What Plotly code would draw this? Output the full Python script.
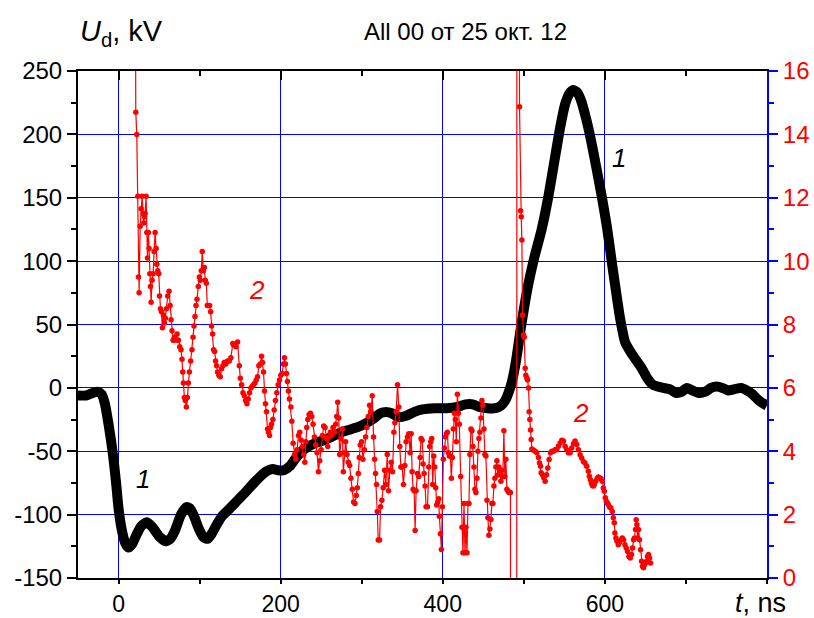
import plotly.graph_objects as go

# Curve 1: divider voltage U_d, kV (left axis)
t_u = [-50, -40, -32, -26, -21, -17, -12, -7, -3, 0, 4, 8, 12, 17, 22, 28, 35, 42, 50, 58,
       64, 70, 77, 84, 88, 93, 99, 105, 110, 115, 121, 128, 136, 145, 157, 170, 182, 190, 197, 204,
       211, 218, 226, 235, 245, 255, 265, 275, 285, 295, 305, 315, 323, 330, 337, 345, 355, 365, 375, 390,
       405, 418, 428, 437, 445, 455, 465, 472, 477, 481, 485, 490, 497, 505, 513, 522, 530, 538, 545, 551,
       556, 561, 566, 571, 577, 583, 590, 597, 603, 609, 614, 619, 625, 633, 645, 652, 658, 665, 672, 680,
       688, 695, 701, 708, 716, 724, 731, 738, 745, 752, 760, 768, 775, 782, 790, 800]
u_kv = [-6, -6, -4, -3, -5, -12, -30, -52, -75, -95, -112, -122, -126, -123, -116, -109, -106, -110, -117, -121,
        -119, -112, -100, -94, -95, -101, -111, -118, -119, -115, -108, -101, -96, -90, -82, -73, -66, -64, -65, -65,
        -62, -56, -50, -46, -43, -41, -38, -35, -33, -31, -28, -24, -20, -19, -20, -23, -22, -19, -17, -16,
        -16, -15, -13, -13, -15, -16, -16, -14, -10, -4, 4, 20, 50, 80, 103, 125, 150, 180, 206, 224,
        232, 235, 233, 226, 212, 195, 172, 148, 125, 97, 75, 54, 36, 27, 16, 8, 3, 1, 0, -1,
        -4, -3, 0, -2, -4, -3, 0, 1, 0, -2, -1, 0, -2, -5, -10, -14]

# Curve 2: right-axis quantity (0..16)
t_2 = [20.0, 21.3, 22.5, 23.8, 24.6, 25.4, 26.7, 27.9, 29.1, 30.4, 31.2, 32.0, 32.8, 34.0, 34.9, 35.7, 36.9, 37.7,
       38.6, 39.4, 40.2, 41.4, 42.7, 43.9, 45.1, 46.4, 47.2, 48.4, 49.6, 50.5, 51.7, 53.0, 54.1, 55.4, 56.6, 57.8,
       59.1, 60.7, 62.3, 63.6, 64.8, 66.0, 67.3, 68.9, 70.5, 72.2, 73.8, 75.5, 77.1, 78.3, 79.2, 80.0, 81.2, 82.4,
       83.7, 84.9, 86.1, 87.4, 89.0, 90.6, 91.9, 93.1, 94.3, 95.6, 96.8, 98.4, 99.7, 100.9, 102.1, 103.3, 104.6,
       105.8, 107.0, 108.3, 109.5, 110.7, 112.4, 113.6, 114.8, 116.1, 117.3, 118.5, 119.7, 121.0, 122.2, 123.8,
       125.5, 127.1, 128.8, 130.4, 132.4, 134.5, 136.6, 138.6, 141.0, 142.0, 144.9, 146.9, 149.0, 150.2, 151.8,
       153.5, 155.1, 156.7, 158.4, 160.0, 161.7, 163.3, 164.9, 166.6, 168.2, 169.9, 171.5, 173.1, 174.8, 176.4,
       177.7, 178.9, 180.1, 181.3, 182.6, 183.8, 185.0, 186.3, 187.5, 188.7, 190.4, 192.0, 193.6, 195.3, 196.9,
       198.6, 200.2, 201.8, 203.5, 204.7, 205.9, 207.2, 208.4, 209.6, 210.8, 212.6, 213.8, 215.4, 217.1, 218.7,
       220.3, 222.0, 223.6, 225.3, 226.9, 228.5, 229.8, 231.0, 232.2, 233.5, 235.1, 236.7, 238.4, 240.0, 241.7,
       243.3, 244.9, 246.6, 248.2, 249.9, 251.5, 253.1, 254.8, 256.4, 258.1, 259.7, 261.3, 263.0, 264.6, 266.3,
       267.9, 269.1, 270.4, 271.6, 272.8, 274.5, 276.1, 277.3, 278.6, 280.2, 281.8, 283.5, 285.1, 286.7, 288.4,
       290.0, 291.7, 293.3, 294.6, 295.8, 297.0, 298.2, 299.9, 301.5, 303.2, 304.8, 306.4, 308.1, 309.7, 311.4,
       313.0, 314.6, 315.9, 317.1, 318.3, 319.2, 320.4, 322.0, 323.3, 324.9, 326.5, 328.2, 329.8, 331.5, 333.1,
       334.7, 336.4, 338.0, 339.7, 340.9, 342.5, 344.2, 345.8, 347.0, 348.3, 349.9, 351.5, 353.2, 354.8, 356.5,
       358.1, 359.7, 361.0, 362.2, 363.4, 364.7, 365.9, 367.1, 368.8, 370.4, 372.1, 373.3, 374.5, 375.7, 377.0,
       378.2, 379.4, 381.1, 382.7, 383.9, 385.2, 386.4, 387.6, 388.9, 390.1, 391.3, 392.5, 393.8, 395.0, 395.8,
       397.1, 398.3, 399.5, 400.7, 402.0, 403.2, 404.4, 405.7, 406.9, 408.1, 409.4, 410.6, 411.8, 413.0, 414.3,
       415.5, 416.7, 418.0, 419.2, 420.4, 422.1, 423.7, 424.9, 426.2, 427.4, 428.6, 429.9, 431.1, 432.3, 433.5,
       434.8, 436.0, 437.2, 438.5, 439.7, 440.9, 442.2, 443.4, 444.6, 445.8, 447.1, 448.3, 449.5, 450.8, 452.0,
       453.2, 454.5, 455.7, 456.9, 458.1, 459.4, 460.6, 461.8, 463.1, 464.3, 465.5, 466.8, 468.0, 469.2, 470.4,
       471.7, 472.9, 474.1, 475.4, 476.6, 477.8, 479.1, 480.3, 481.5, 483.5, 484.5, 491.0, 491.6, 494.7, 496.0,
       496.8, 497.6, 498.4, 499.7, 500.5, 501.7, 502.5, 503.8, 504.6, 505.8, 506.6, 507.4, 508.3, 509.1, 509.9,
       512.0, 514.0, 516.0, 518.1, 519.3, 520.6, 521.4, 523.0, 524.7, 526.3, 528.0, 529.6, 531.2, 532.9, 534.5,
       536.6, 538.6, 540.7, 542.7, 544.8, 546.8, 548.9, 550.9, 553.0, 555.0, 557.1, 559.1, 561.2, 563.2, 565.3,
       567.3, 569.4, 571.4, 573.5, 575.5, 577.6, 579.6, 580.8, 582.1, 583.3, 584.5, 585.8, 587.0, 588.6, 590.3,
       591.9, 593.5, 595.2, 596.8, 598.1, 599.3, 600.5, 601.7, 603.0, 604.2, 605.8, 607.5, 609.1, 610.4, 611.6,
       612.4, 613.6, 614.9, 616.5, 618.1, 619.8, 621.4, 623.1, 624.7, 626.3, 628.0, 629.6, 631.3, 632.9, 634.1,
       635.4, 636.6, 637.8, 638.6, 639.5, 640.3, 641.5, 642.7, 644.0, 645.2, 646.4, 647.7, 648.9, 650.1, 651.4,
       652.6, 653.8, 655.1, 656.3]
v_2 = [25.0, 14.7, 14.0, 12.05, 9.5, 9.0, 11.1, 11.65, 12.05, 11.5, 11.2, 11.4, 11.5, 12.05, 10.9, 10.1, 10.9, 10.4,
       9.6, 9.2, 8.7, 9.4, 9.6, 10.3, 10.9, 10.4, 9.9, 9.7, 9.6, 8.9, 8.5, 8.4, 7.9, 8.3, 8.05, 8.2,
       8.5, 8.9, 9.05, 8.6, 8.15, 7.8, 7.5, 7.6, 7.5, 7.7, 7.5, 7.3, 7.2, 6.9, 6.5, 6.15, 5.7, 5.6,
       5.4, 5.7, 6.15, 6.5, 6.85, 7.2, 7.6, 7.95, 8.25, 8.6, 8.8, 9.2, 9.5, 9.4, 9.7, 10.3, 9.7,
       9.8, 9.4, 9.3, 8.6, 8.6, 8.6, 8.4, 7.95, 7.7, 7.2, 7.15, 6.85, 6.7, 6.5, 6.4,
       6.35, 6.6, 6.7, 6.8, 6.75, 6.85, 6.85, 6.95, 7.4, 7.35, 7.3, 7.45, 6.7, 6.3, 6.1,
       5.85, 5.75, 5.6, 5.5, 5.65, 5.85, 6.0, 6.05, 6.1, 6.15, 6.25, 6.35, 6.7, 6.75, 7.0,
       6.8, 6.5, 5.9, 5.5, 5.25, 4.7, 4.6, 4.5, 4.75, 4.85, 5.0, 5.3, 5.6, 5.85, 6.1,
       6.25, 6.4, 6.45, 6.75, 6.95, 6.75, 6.45, 6.2, 5.9, 5.65, 5.4, 4.95, 4.25, 3.9, 3.75,
       4.05, 4.5, 4.6, 4.35, 4.15, 3.9, 3.65, 4.3, 4.75, 5.0, 5.15, 5.2, 5.1, 4.85, 4.45,
       4.2, 3.95, 3.35, 3.7, 4.05, 4.5, 4.8, 4.75, 4.4, 4.15, 4.45, 4.6, 4.5, 4.75, 4.6,
       4.85, 5.1, 5.55, 5.05, 3.9, 4.4, 4.7, 3.35, 3.95, 4.3, 3.9, 3.65, 3.55, 3.15, 2.8,
       2.4, 2.35, 2.6, 2.85, 3.3, 3.8, 4.2, 4.3, 3.75, 4.05, 4.45, 4.75, 5.1, 5.45, 5.25,
       5.75, 4.45, 3.75, 3.3, 2.95, 2.1, 1.2, 1.2, 2.25, 2.45, 2.85, 3.4, 2.95, 3.9, 2.75,
       3.4, 3.65, 3.35, 4.6, 4.9, 5.25, 6.1, 5.4, 4.15, 3.5, 3.5, 2.95, 3.55, 4.3, 4.45,
       4.55, 3.95, 4.55, 3.35, 2.8, 2.75, 1.5, 2.75, 3.3, 3.2, 3.8, 4.4, 4.35, 3.6, 3.3,
       2.9, 2.25, 2.25, 3.5, 4.15, 4.3, 4.4, 2.95, 3.85, 3.5, 2.85, 2.3, 2.4, 2.5, 1.95,
       1.4, 0.9, 2.25, 3.75, 4.1, 4.45, 4.55, 4.6, 3.95, 3.85, 3.85, 3.15, 3.8, 4.7, 5.2,
       5.0, 4.3, 5.8, 5.2, 4.85, 3.2, 1.6, 0.8, 2.35, 0.8, 1.6, 0.8, 2.35, 2.35, 3.9,
       4.7, 4.65, 4.15, 3.5, 2.8, 2.7, 3.15, 4.0, 4.4, 4.6, 5.05, 5.6, 5.45, 4.7, 3.9,
       3.85, 2.45, 1.9, 1.35, 1.55, 1.85, 2.35, 2.35, 2.9, 3.15, 3.5, 3.7, 3.25, 3.5, 3.4,
       3.05, 3.4, 3.2, 4.65, 3.2, 3.75, 2.8, 2.75, 2.7, 2.7, -60.0, -60.0, 60.0, 14.87, 11.59,
       11.4, 10.67, 8.3, 7.67, 7.6, 6.62, 6.4, 6.3, 6.25, 6.0, 5.25, 5.0, 4.67, 4.37, 4.07,
       4.03, 4.0, 3.95, 3.8, 3.63, 3.53, 3.32, 3.26, 3.16, 3.05, 3.26, 3.47, 3.74, 3.95, 4.0,
       4.0, 4.05, 4.05, 4.16, 4.26, 4.35, 4.32, 4.16, 4.05, 3.95, 3.95, 4.1, 4.24, 4.32, 4.21,
       4.05, 3.89, 3.79, 3.68, 3.63, 3.53, 3.37, 3.21, 3.1, 3.0, 2.92, 2.9, 2.95, 3.05, 3.13,
       3.19, 3.16, 3.13, 3.05, 2.84, 2.74, 2.53, 2.42, 2.37, 2.32, 2.24, 2.21, 2.1, 1.9, 1.74,
       1.42, 1.26, 1.16, 1.05, 1.13, 1.21, 1.26, 1.21, 1.05, 0.95, 0.84, 0.68, 0.63, 0.74, 0.95,
       1.21, 1.26, 1.53, 1.84, 1.68, 1.26, 1.53, 1.21, 0.89, 0.53, 0.37, 0.32, 0.42, 0.47, 0.53,
       0.68, 0.74, 0.63, 0.47]

x_ticks = [0, 200, 400, 600]
y_ticks = [-150, -100, -50, 0, 50, 100, 150, 200, 250]
y2_ticks = [0, 2, 4, 6, 8, 10, 12, 14, 16]

FONT = "Liberation Sans, Arial, sans-serif"
GRID = "#0000ff"

fig = go.Figure()

fig.add_trace(go.Scatter(
    x=t_u, y=u_kv, mode="lines", xaxis="x", yaxis="y",
    line=dict(color="black", width=10, shape="spline", smoothing=0.6),
    showlegend=False, hoverinfo="skip"))

fig.add_trace(go.Scatter(
    x=t_2, y=v_2, mode="lines+markers", xaxis="x", yaxis="y2",
    line=dict(color="#ff0000", width=1.2),
    marker=dict(color="#ff0000", size=5.5),
    showlegend=False, hoverinfo="skip"))

# placeholder so the top tick axis is drawn
fig.add_trace(go.Scatter(x=[None], y=[None], xaxis="x2", yaxis="y",
                         showlegend=False, hoverinfo="skip"))

fig.update_layout(
    width=814, height=618,
    margin=dict(l=78, r=47, t=71, b=40, autoexpand=False),
    paper_bgcolor="white", plot_bgcolor="white",
    font=dict(family=FONT, size=24, color="black"),
    xaxis=dict(
        range=[-50, 800], tickvals=x_ticks, ticktext=[str(v) for v in x_ticks],
        ticks="outside", ticklen=4, tickwidth=1.5, tickcolor="black", automargin=False,
        minor=dict(dtick=100, tick0=0, ticks="outside", ticklen=4, tickwidth=1.5, tickcolor="black", showgrid=False),
        showgrid=True, gridcolor=GRID, gridwidth=1,
        showline=True, linecolor="black", linewidth=2, zeroline=False,
        tickfont=dict(family=FONT, size=23, color="black")),
    xaxis2=dict(
        overlaying="x", anchor="y", side="top", range=[-50, 800], automargin=False,
        tickvals=x_ticks, ticks="inside", ticklen=9, tickwidth=1.5, tickcolor="black",
        minor=dict(dtick=100, tick0=0, ticks="inside", ticklen=5, tickwidth=1.5, tickcolor="black"),
        showticklabels=False, showgrid=False, zeroline=False,
        showline=True, linecolor="black", linewidth=2),
    yaxis=dict(
        range=[-150, 250], tickvals=y_ticks, ticktext=[str(v) for v in y_ticks],
        ticks="outside", ticklen=9, tickwidth=1.5, tickcolor="black", automargin=False,
        minor=dict(dtick=25, tick0=0, ticks="outside", ticklen=5, tickwidth=1.5, tickcolor="black", showgrid=False),
        showgrid=True, gridcolor=GRID, gridwidth=1,
        showline=True, linecolor="black", linewidth=2, zeroline=False,
        tickfont=dict(family=FONT, size=24, color="black")),
    yaxis2=dict(
        overlaying="y", side="right", anchor="x", range=[0, 16], automargin=False,
        tickvals=y2_ticks, ticktext=[str(v) for v in y2_ticks],
        ticks="outside", ticklen=9, tickwidth=1.5, tickcolor="#0000ff",
        minor=dict(dtick=1, tick0=0, ticks="outside", ticklen=5, tickwidth=1.5, tickcolor="#0000ff"),
        showgrid=False, zeroline=False,
        showline=True, linecolor="#0000ff", linewidth=2,
        tickfont=dict(family=FONT, size=24, color="#ff0000")),
)

annotations = [
    dict(text="<i>U</i><sub>d</sub>, kV", xref="paper", yref="paper", x=0.0, y=1.075,
         xanchor="left", yanchor="middle", showarrow=False, font=dict(family=FONT, size=29, color="black")),
    dict(text="All 00 от 25 окт. 12", xref="paper", yref="paper", x=0.562, y=1.077,
         xanchor="center", yanchor="middle", showarrow=False, font=dict(family=FONT, size=24, color="black")),
    dict(text="<i>t</i>, ns", xref="paper", yref="paper", x=1.03, y=-0.05,
         xanchor="right", yanchor="middle", showarrow=False, font=dict(family=FONT, size=27, color="black")),
    dict(text="<i>1</i>", xref="x", yref="y", x=30, y=-72, showarrow=False,
         font=dict(family=FONT, size=26, color="black")),
    dict(text="<i>1</i>", xref="x", yref="y", x=617, y=181, showarrow=False,
         font=dict(family=FONT, size=26, color="black")),
    dict(text="<i>2</i>", xref="x", yref="y", x=171, y=77, showarrow=False,
         font=dict(family=FONT, size=26, color="#ff0000")),
    dict(text="<i>2</i>", xref="x", yref="y", x=570, y=-20, showarrow=False,
         font=dict(family=FONT, size=26, color="#ff0000")),
]
fig.update_layout(annotations=annotations)

fig.write_html("out.html")
